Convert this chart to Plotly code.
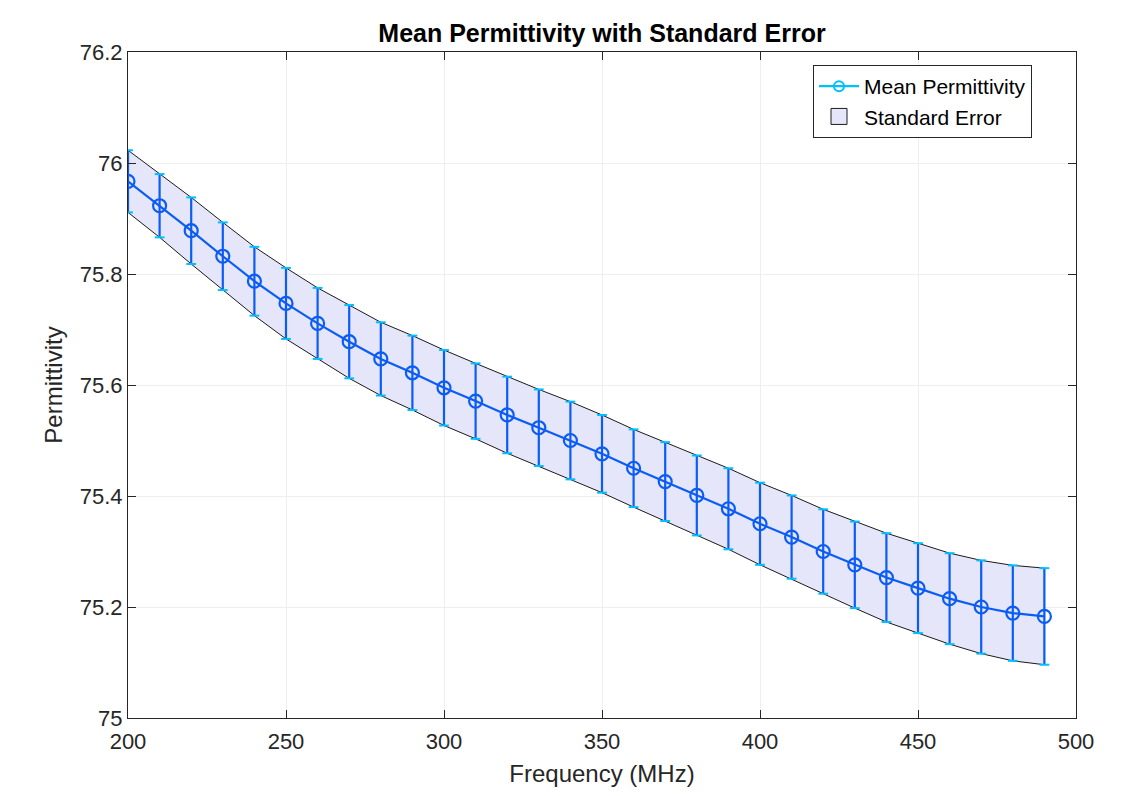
import plotly.graph_objects as go

freq = [200, 210, 220, 230, 240, 250, 260, 270, 280, 290,
        300, 310, 320, 330, 340, 350, 360, 370, 380, 390,
        400, 410, 420, 430, 440, 450, 460, 470, 480, 490]
mean_perm = [75.967, 75.923, 75.878, 75.832, 75.787, 75.747, 75.711, 75.678, 75.647, 75.622,
             75.595, 75.571, 75.546, 75.523, 75.500, 75.476, 75.450, 75.426, 75.401, 75.377,
             75.350, 75.326, 75.300, 75.276, 75.253, 75.234, 75.215, 75.200, 75.189, 75.183]
std_err = [0.056, 0.057, 0.060, 0.061, 0.062, 0.064, 0.064, 0.066, 0.066, 0.067,
           0.068, 0.068, 0.069, 0.069, 0.070, 0.070, 0.070, 0.071, 0.072, 0.073,
           0.074, 0.075, 0.076, 0.078, 0.080, 0.081, 0.082, 0.084, 0.086, 0.087]
y_ticks = [75, 75.2, 75.4, 75.6, 75.8, 76, 76.2]
x_ticks = [200, 250, 300, 350, 400, 450, 500]

upper = [m + e for m, e in zip(mean_perm, std_err)]
lower = [m - e for m, e in zip(mean_perm, std_err)]

FONT = "Liberation Sans, Arial, Helvetica, sans-serif"
BLUE = "#0A5CF5"
CYAN = "#00BFFF"
LAV = "#E6E6FA"

fig = go.Figure()

# Standard error band
fig.add_trace(go.Scatter(
    x=freq + freq[::-1], y=upper + lower[::-1],
    fill="toself", fillcolor=LAV, mode="lines",
    line=dict(color="#1a1a1a", width=1),
    showlegend=False, hoverinfo="skip"))

# Error bars (vertical)
fig.add_trace(go.Scatter(
    x=freq, y=mean_perm, mode="markers",
    marker=dict(size=0.1, color=BLUE, opacity=0),
    error_y=dict(type="data", array=std_err, visible=True,
                 color=BLUE, thickness=2.2, width=0),
    showlegend=False, hoverinfo="skip"))

# Caps
fig.add_trace(go.Scatter(
    x=freq + freq, y=upper + lower, mode="markers",
    marker=dict(symbol="line-ew", size=7, line=dict(color=CYAN, width=2)),
    showlegend=False, hoverinfo="skip"))

# Mean line
fig.add_trace(go.Scatter(
    x=freq, y=mean_perm, mode="lines+markers",
    line=dict(color=BLUE, width=2.2),
    marker=dict(symbol="circle-open", size=13, color=BLUE, line=dict(width=2.2, color=BLUE)),
    showlegend=False))

# Legend entries
fig.add_trace(go.Scatter(
    x=[None], y=[None], mode="lines+markers",
    line=dict(color=CYAN, width=2.2),
    marker=dict(symbol="circle-open", size=10, color=CYAN, line=dict(width=2, color=CYAN)),
    name="Mean Permittivity", legendrank=1))
fig.add_trace(go.Scatter(
    x=[None], y=[None], mode="markers",
    marker=dict(symbol="square", size=16, color=LAV, line=dict(width=1, color="#1a1a1a")),
    name="Standard Error", legendrank=2))

axis_common = dict(
    showline=True, linecolor="#262626", linewidth=1.2, mirror="allticks",
    ticks="inside", ticklen=8, tickcolor="#262626", tickwidth=1,
    showgrid=True, gridcolor="#EEEEEE", gridwidth=1, zeroline=False,
    tickfont=dict(family=FONT, size=22, color="#262626"),
    automargin=False,
)

# The page body adds an 8px offset; the figure is sized to fit the window.
W, H = 1116, 780
fig.update_layout(
    width=W, height=H,
    paper_bgcolor="white", plot_bgcolor="white",
    margin=dict(l=120, r=48, t=44, b=70),
    title=dict(text="<b>Mean Permittivity with Standard Error</b>",
               x=(120 + 1068) / 2 / W, xanchor="center", y=1 - 25 / H, yanchor="middle",
               font=dict(family=FONT, size=25, color="black")),
    xaxis=dict(range=[200, 500], tickvals=x_ticks, ticklabelstandoff=3,
               title=dict(text="Frequency (MHz)", font=dict(family=FONT, size=24, color="#262626"), standoff=12),
               **axis_common),
    yaxis=dict(range=[75, 76.2], tickvals=y_ticks,
               title=dict(text="Permittivity", font=dict(family=FONT, size=24, color="#262626"), standoff=10),
               **axis_common),
    legend=dict(x=0.9536, xanchor="right", y=0.9805, yanchor="top",
                bgcolor="white", bordercolor="#262626", borderwidth=1,
                font=dict(family=FONT, size=21, color="black"),
                itemwidth=40, tracegroupgap=0, itemsizing="trace"),
    showlegend=True,
)

fig.write_html("out.html")
